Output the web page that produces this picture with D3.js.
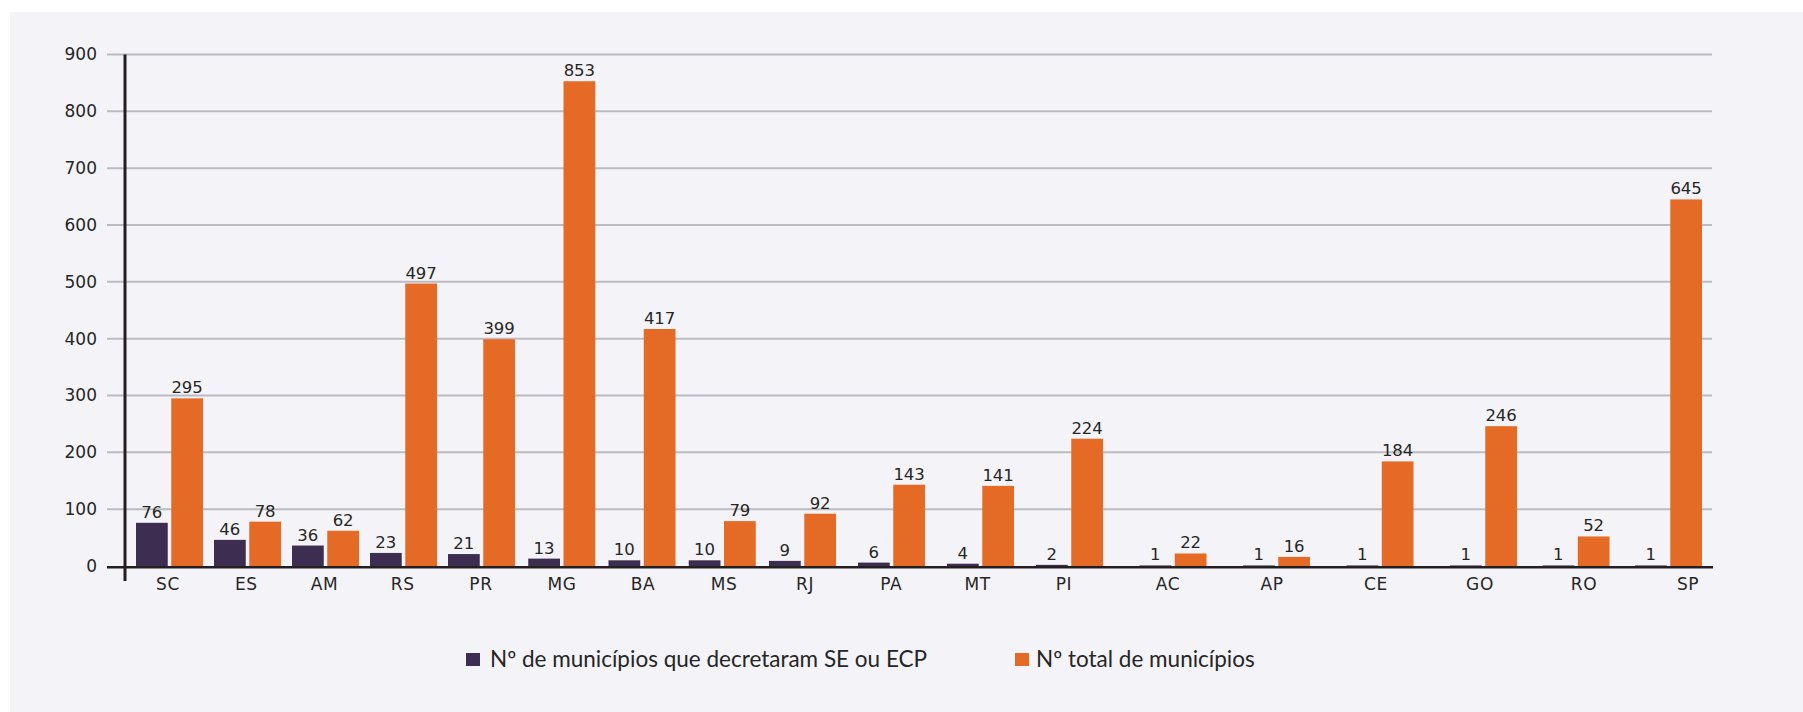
<!DOCTYPE html>
<html>
<head>
<meta charset="utf-8">
<script src="https://cdn.jsdelivr.net/npm/d3@7"></script>
<style>
  html, body { margin: 0; padding: 0; background: #ffffff; }
  svg { display: block; }
</style>
</head>
<body>
<svg id="chart" width="1803" height="712"></svg>
<script>
// Estados, em ordem decrescente de municípios com SE ou ECP decretado
const states = ["SC","ES","AM","RS","PR","MG","BA","MS","RJ","PA","MT","PI","AC","AP","CE","GO","RO","SP"];
const decretaram = [76,46,36,23,21,13,10,10,9,6,4,2,1,1,1,1,1,1];
const totalMunicipios = [295,78,62,497,399,853,417,79,92,143,141,224,22,16,184,246,52,645];
const yTickValues = [0,100,200,300,400,500,600,700,800,900];
const seriesNames = ["Nº de municípios que decretaram SE ou ECP", "Nº total de municípios"];
const seriesColors = ["#3d2d50", "#e56a25"];

const svg = d3.select("#chart");
const textColor = "#262626";

// painel de fundo
svg.append("rect")
  .attr("x", 10).attr("y", 12)
  .attr("width", 1793).attr("height", 700)
  .attr("fill", "#f4f3f8");

const y = d3.scaleLinear().domain([0, 900]).range([566, 54.5]);

// centro de cada grupo de barras (espaçamento por trechos)
const x = d3.scaleLinear()
  .domain([0, 4, 8, 11, 15, 17])
  .range([169.5, 481.5, 802.5, 1069.5, 1483.5, 1668.5]);

// centro de cada rótulo de categoria
const xLabel = d3.scaleLinear()
  .domain([0, 4, 8, 11, 17])
  .range([168, 481, 805, 1064, 1688]);

const inner = d3.scaleBand()
  .domain([0, 1])
  .range([-33.5, 33.5])
  .paddingInner(0.1);

const gridLeft = 107, gridRight = 1712;

// linhas de grade
svg.append("g").selectAll("line")
  .data(yTickValues.filter(d => d > 0))
  .join("line")
  .attr("x1", gridLeft).attr("x2", gridRight)
  .attr("y1", d => y(d)).attr("y2", d => y(d))
  .attr("stroke", "#bbbbc1")
  .attr("stroke-width", 2);

// rótulos do eixo Y
svg.append("g").selectAll("text")
  .data(yTickValues)
  .join("text")
  .attr("x", 97)
  .attr("y", d => y(d))
  .attr("dy", "0.35em")
  .attr("text-anchor", "end")
  .attr("font-family", "DejaVu Sans")
  .attr("font-size", 17)
  .attr("fill", textColor)
  .text(d => d);

// barras
const groups = svg.append("g").selectAll("g")
  .data(states.map((s, i) => ({ s, i, vals: [decretaram[i], totalMunicipios[i]] })))
  .join("g");

groups.selectAll("rect")
  .data(d => d.vals.map((v, k) => ({ v, k, i: d.i })))
  .join("rect")
  .attr("x", d => x(d.i) + inner(d.k))
  .attr("width", inner.bandwidth())
  .attr("y", d => y(d.v))
  .attr("height", d => y(0) - y(d.v))
  .attr("fill", d => seriesColors[d.k]);

// eixos
svg.append("line")
  .attr("x1", gridLeft).attr("x2", gridRight + 1)
  .attr("y1", y(0) + 1.2).attr("y2", y(0) + 1.2)
  .attr("stroke", "#231f20").attr("stroke-width", 2.6);
svg.append("line")
  .attr("x1", 125).attr("x2", 125)
  .attr("y1", y(900)).attr("y2", 581)
  .attr("stroke", "#231f20").attr("stroke-width", 3);

// valores sobre as barras
groups.selectAll("text.val")
  .data(d => d.vals.map((v, k) => ({ v, k, i: d.i })))
  .join("text")
  .attr("class", "val")
  .attr("x", d => x(d.i) + inner(d.k) + inner.bandwidth() / 2)
  .attr("y", d => y(d.v) - 5)
  .attr("text-anchor", "middle")
  .attr("font-family", "DejaVu Sans")
  .attr("font-size", 16.5)
  .attr("fill", textColor)
  .text(d => d.v);

// rótulos das categorias
svg.append("g").selectAll("text")
  .data(states)
  .join("text")
  .attr("x", (d, i) => xLabel(i))
  .attr("y", 590)
  .attr("text-anchor", "middle")
  .attr("font-family", "DejaVu Sans")
  .attr("font-size", 17)
  .attr("letter-spacing", 0.6)
  .attr("fill", textColor)
  .text(d => d);

// legenda
const legendX = [466, 1015];
const legend = svg.append("g").selectAll("g")
  .data(seriesNames)
  .join("g")
  .attr("transform", (d, i) => `translate(${legendX[i]},0)`);
legend.append("rect")
  .attr("x", 0).attr("y", 653)
  .attr("width", 14).attr("height", 13)
  .attr("fill", (d, i) => seriesColors[i]);
legend.append("text")
  .attr("x", (d, i) => i === 0 ? 24 : 21)
  .attr("y", 666.5)
  .attr("font-family", "Lato")
  .attr("font-size", 22.5)
  .attr("fill", textColor)
  .text(d => d);
</script>
</body>
</html>
